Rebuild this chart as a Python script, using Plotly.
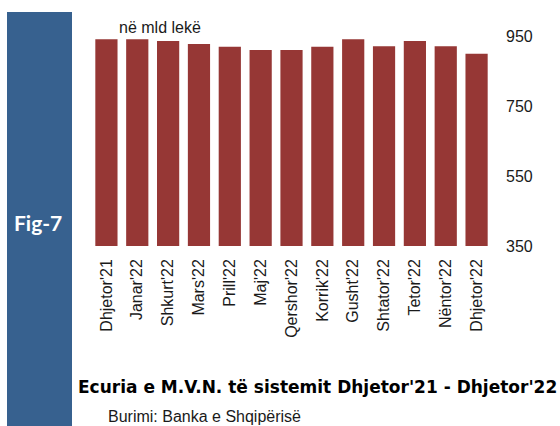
import plotly.graph_objects as go

months = ["Dhjetor'21", "Janar'22", "Shkurt'22", "Mars'22", "Prill'22", "Maj'22",
          "Qershor'22", "Korrik'22", "Gusht'22", "Shtator'22", "Tetor'22", "Nëntor'22", "Dhjetor'22"]
values = [941, 941, 936, 927, 919, 910, 910, 919, 941, 921, 936, 921, 899]
y_ticks = [350, 550, 750, 950]

W, H = 560, 426
def px(x): return x / W
def py(y): return 1 - y / H

fig = go.Figure()
fig.add_trace(go.Bar(x=months, y=values, marker=dict(color="#963735", line=dict(width=0)),
                     showlegend=False, hoverinfo="skip"))

fig.update_layout(
    width=W, height=H,
    margin=dict(l=0, r=0, t=0, b=0),
    paper_bgcolor="white", plot_bgcolor="white",
    bargap=0.28,
    font=dict(family="Liberation Sans, Arial, sans-serif", size=16, color="#1a1a1a"),
    xaxis=dict(domain=[px(91), px(492)], tickangle=-90, showgrid=False, showline=False,
               ticks="", automargin=False, tickfont=dict(size=16, color="#1a1a1a"),
               ticklabelstandoff=9),
    yaxis=dict(domain=[py(246), py(36)], range=[350, 950], tickvals=y_ticks, side="right",
               showgrid=False, showline=False, zeroline=False, ticks="", automargin=False,
               tickfont=dict(size=16, color="#1a1a1a"), ticklabelstandoff=13),
    shapes=[dict(type="rect", xref="paper", yref="paper", x0=px(7), x1=px(72), y0=0, y1=py(12),
                 fillcolor="#37618F", line=dict(width=0), layer="above")],
    annotations=[
        dict(text="Fig-7", xref="paper", yref="paper", x=px(38), y=py(222), showarrow=False,
             font=dict(family="Lato, sans-serif", size=21, color="white", weight="bold"),
             xanchor="center", yanchor="middle"),
        dict(text="në mld lekë", xref="paper", yref="paper", x=px(159.5), y=py(27.5), showarrow=False,
             font=dict(size=16, color="#1a1a1a"), xanchor="center", yanchor="middle"),
        dict(text="<b>Ecuria e M.V.N. të sistemit Dhjetor'21 - Dhjetor'22</b>", xref="paper", yref="paper",
             x=px(317), y=py(387), showarrow=False,
             font=dict(family="DejaVu Sans, sans-serif", size=17, color="black"),
             xanchor="center", yanchor="middle"),
        dict(text="Burimi: Banka e Shqipërisë", xref="paper", yref="paper", x=px(106), y=py(416),
             showarrow=False, font=dict(size=16, color="#1a1a1a"), xanchor="left", yanchor="middle"),
    ],
)

fig.write_html("out.html", config={"displayModeBar": False},
               post_script="document.body.style.margin='0';document.body.style.padding='0';")
